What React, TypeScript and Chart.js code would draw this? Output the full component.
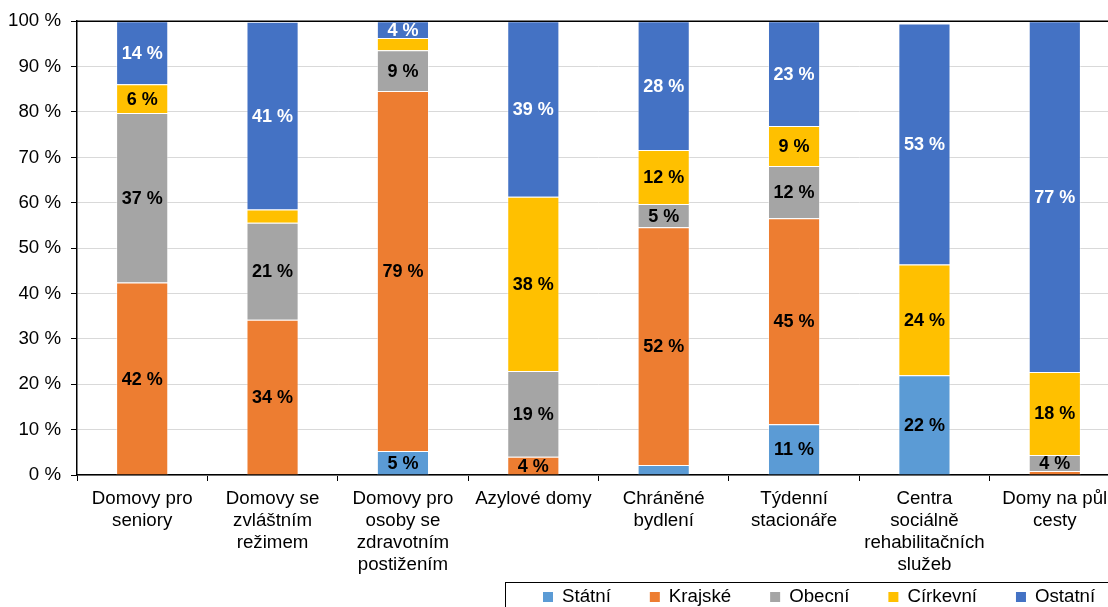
import React, { useEffect, useRef } from "react";
import { Chart, registerables } from "chart.js";

Chart.register(...registerables);

const FONT = '"Liberation Sans", Arial, Helvetica, sans-serif';

const categories: string[][] = [
  ["Domovy pro", "seniory"],
  ["Domovy se", "zvláštním", "režimem"],
  ["Domovy pro", "osoby se", "zdravotním", "postižením"],
  ["Azylové domy"],
  ["Chráněné", "bydlení"],
  ["Týdenní", "stacionáře"],
  ["Centra", "sociálně", "rehabilitačních", "služeb"],
  ["Domy na půl", "cesty"],
];

const statni = [0, 0, 5.3, 0, 2.2, 11.2, 22.0, 0];
const krajske = [42.4, 34.2, 79.3, 4.0, 52.4, 45.4, 0, 0.9];
const obecni = [37.4, 21.4, 9.0, 18.9, 5.1, 11.5, 0, 3.5];
const cirkevni = [6.3, 2.9, 2.7, 38.4, 11.9, 8.8, 24.4, 18.3];
const ostatni = [13.9, 41.4, 3.7, 38.7, 28.4, 23.1, 53.1, 77.3];

const seriesNames = ["Státní", "Krajské", "Obecní", "Církevní", "Ostatní"];
const seriesValues = [statni, krajske, obecni, cirkevni, ostatni];
const seriesColors = ["#5B9BD5", "#ED7D31", "#A5A5A5", "#FFC000", "#4472C4"];
const labelColors = ["#000000", "#000000", "#000000", "#000000", "#FFFFFF"];

const yTickValues = [0, 10, 20, 30, 40, 50, 60, 70, 80, 90, 100];
const yTickSuffix = " %";

const segmentLabels = {
  id: "segmentLabels",
  afterDatasetsDraw(chart: any) {
    const ctx = chart.ctx;
    const area = chart.chartArea;
    ctx.save();
    // top frame line at 100 %
    ctx.strokeStyle = "#000";
    ctx.lineWidth = 1.5;
    ctx.beginPath();
    ctx.moveTo(area.left, area.top);
    ctx.lineTo(area.right, area.top);
    ctx.stroke();

    ctx.font = `bold 18px ${FONT}`;
    ctx.textAlign = "center";
    ctx.textBaseline = "middle";
    chart.data.datasets.forEach((ds: any, i: number) => {
      const meta = chart.getDatasetMeta(i);
      meta.data.forEach((bar: any, j: number) => {
        const v = ds.data[j] as number;
        if (!v || v < 3) return;
        const p = bar.getProps(["x", "y", "base"], true);
        ctx.fillStyle = labelColors[i];
        ctx.fillText(Math.round(v) + yTickSuffix, p.x, (p.y + p.base) / 2 + 1);
      });
    });
    ctx.restore();
  },
};

const boxLegend = {
  id: "boxLegend",
  afterDraw(chart: any) {
    const ctx = chart.ctx;
    ctx.save();
    ctx.strokeStyle = "#000";
    ctx.lineWidth = 1;
    ctx.strokeRect(505.5, 582.5, 700, 60);
    ctx.font = `18.7px ${FONT}`;
    ctx.textBaseline = "middle";
    ctx.textAlign = "left";
    let x = 543;
    seriesNames.forEach((name, i) => {
      ctx.fillStyle = seriesColors[i];
      ctx.fillRect(x, 592, 10, 10);
      ctx.fillStyle = "#000";
      ctx.fillText(name, x + 19, 597);
      x += 19 + ctx.measureText(name).width + 39;
    });
    ctx.restore();
  },
};

export default function App() {
  const ref = useRef<HTMLCanvasElement | null>(null);

  useEffect(() => {
    if (!ref.current) return;
    const chart = new Chart(ref.current, {
      type: "bar",
      data: {
        labels: categories,
        datasets: seriesNames.map((name, i) => ({
          label: name,
          data: seriesValues[i],
          backgroundColor: seriesColors[i],
          borderColor: "rgba(255,255,255,0.45)",
          borderWidth: 1,
          barPercentage: 0.4,
          categoryPercentage: 1,
        })),
      },
      options: {
        responsive: false,
        animation: false,
        layout: { padding: { top: 21, right: 5, left: 0, bottom: 0 } },
        plugins: {
          legend: { display: false },
          tooltip: { enabled: false },
          title: { display: false },
        },
        scales: {
          x: {
            stacked: true,
            grid: {
              display: true,
              drawOnChartArea: false,
              drawTicks: true,
              tickLength: 6,
              tickColor: "#000",
              offset: true,
            },
            border: { color: "#000", width: 1.5 },
            ticks: {
              color: "#000",
              font: { family: FONT, size: 18.7, lineHeight: 1.18 },
              maxRotation: 0,
              minRotation: 0,
              autoSkip: false,
              padding: 7,
            },
            afterFit: (s: any) => {
              s.height = 132;
            },
          },
          y: {
            stacked: true,
            min: 0,
            max: 100,
            afterBuildTicks: (s: any) => {
              s.ticks = yTickValues.map((v) => ({ value: v }));
            },
            ticks: {
              color: "#000",
              font: { family: FONT, size: 18.7 },
              padding: 10,
              callback: (v: any) => v + yTickSuffix,
            },
            grid: {
              color: "#d9d9d9",
              lineWidth: 1,
              tickColor: "#000",
              tickLength: 6,
            },
            border: { color: "#000", width: 1.5 },
            afterFit: (s: any) => {
              s.width = 77;
            },
          },
        },
      },
      plugins: [segmentLabels, boxLegend],
    });
    return () => chart.destroy();
  }, []);

  return (
    <div
      style={{
        position: "fixed",
        left: 0,
        top: 0,
        width: 1108,
        height: 607,
        overflow: "hidden",
        background: "#fff",
      }}
    >
      <canvas
        ref={ref}
        width={1125}
        height={607}
        style={{ display: "block", width: 1125, height: 607 }}
      />
    </div>
  );
}
